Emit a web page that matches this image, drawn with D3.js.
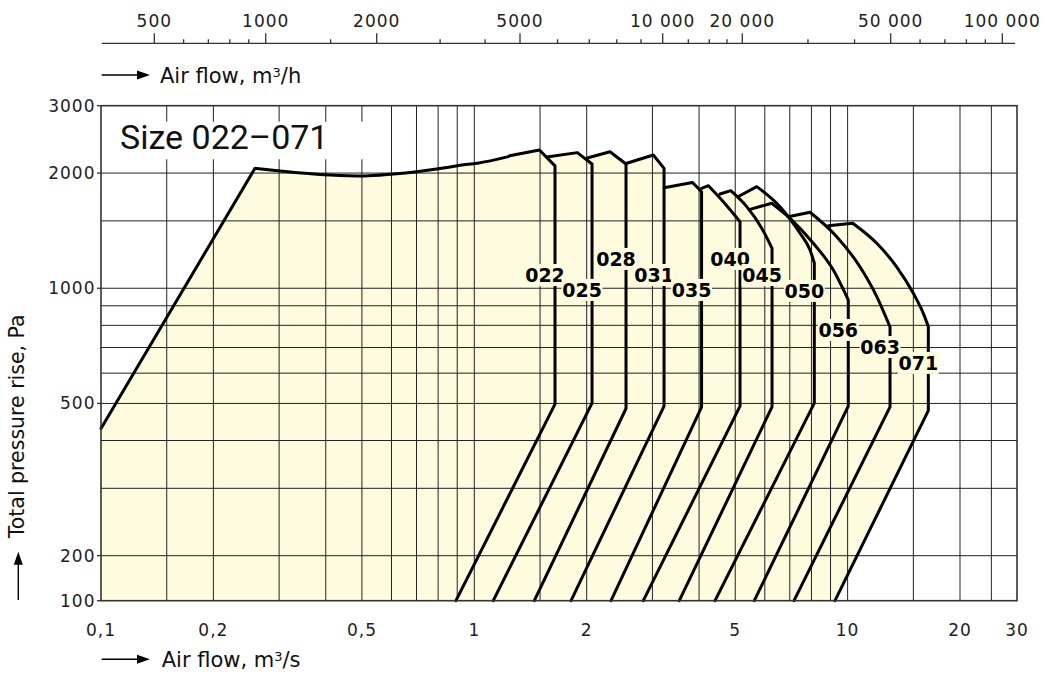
<!DOCTYPE html>
<html><head><meta charset="utf-8">
<script src="https://cdn.jsdelivr.net/npm/d3@7"></script>
<style>html,body{margin:0;padding:0;background:#fff;} svg{display:block;}</style>
</head><body>
<svg id="chart" width="1048" height="675"></svg>
<script>
// ---------------- data ----------------
const sizes = ["022","025","028","031","035","040","045","050","056","063","071"];

// left rising line + common top curve (air flow m3/s, pressure Pa)
const envelopeFlow     = [0.1, 0.2585, 0.302, 0.411, 0.506, 0.607, 0.701, 0.818, 0.916, 1.019, 1.234];
const envelopePressure = [430, 2058,   2025,  1977,  1965,  1989,  2017,  2058,  2096,  2122,  2208];

// top curve of each size: start, peak, ..., shoulder (flow m3/s / pressure Pa)
const topFlow = [
  [1.243, 1.494, 1.645],
  [1.563, 1.888, 2.067],
  [2.008, 2.309, 2.549],
  [2.549, 3.017, 3.223],
  [3.223, 3.842, 4.062],
  [4.062, 4.237, 4.645, 5.15],
  [4.551, 4.863, 5.367, 5.888, 6.274],
  [5.128, 5.708, 6.59, 7.456, 7.93, 8.143],
  [5.476, 6.262, 7.011, 8.093, 9.156, 10.04],
  [6.937, 7.93, 9.35, 10.79, 11.97, 12.99],
  [8.878, 10.32, 11.97, 13.53, 15.0, 15.95, 16.45]
];
const topPressure = [
  [2221, 2298, 2088],
  [2204, 2262, 2113],
  [2190, 2274, 2113],
  [2118, 2230, 2058],
  [1831, 1890, 1788],
  [1825, 1854, 1684, 1493],
  [1764, 1799, 1634, 1435, 1272],
  [1742, 1843, 1634, 1392, 1259, 1164],
  [1608, 1668, 1523, 1311, 1116, 932],
  [1538, 1580, 1364, 1138, 951, 792],
  [1457, 1479, 1311, 1138, 970, 860, 794]
];
// lower end of the vertical part (Pa) and flow at 100 Pa of the sloped part
const cornerPressure = [498, 501, 485, 492, 489, 492, 490, 501, 492, 490, 479];
const bottomFlow     = [0.893, 1.124, 1.448, 1.816, 2.324, 2.836, 3.541, 4.414, 5.624, 7.185, 9.25];
const bottomPressure = 100;
const labelPressure  = [1083, 990, 1193, 1083, 990, 1193, 1083, 984, 778, 702, 638];

// axes
const xTickValues = [0.1, 0.2, 0.5, 1, 2, 5, 10, 20, 30];
const xTickLabels = ["0,1", "0,2", "0,5", "1", "2", "5", "10", "20", "30"];
const xGridValues = [0.15, 0.2, 0.3, 0.4, 0.5, 0.6, 0.7, 0.8, 0.9, 1, 1.5, 2, 3, 4, 5, 6, 7, 8, 9, 10, 15, 20, 25];
const yTickValues = [100, 200, 500, 1000, 2000, 3000];
const yTickLabels = ["100", "200", "500", "1000", "2000", "3000"];
const yGridValues = [200, 300, 400, 500, 600, 700, 800, 900, 1000, 1500, 2000];
const topMajorValues = [500, 1000, 2000, 5000, 10000, 20000, 50000, 100000];
const topMajorLabels = ["500", "1000", "2000", "5000", "10 000", "20 000", "50 000", "100 000"];
const topMinorValues = [600, 700, 800, 900, 1500, 3000, 4000, 6000, 7000, 8000, 9000,
                        12500, 15000, 17500, 30000, 40000, 60000, 70000, 80000, 90000];
const titleText = "Size 022\u2013071";

// ---------------- layout ----------------
const L = 101, R = 1017, T = 105.7, B = 600.7;
const topAxisY = 43.3;
const topMajorPx = [154.3, 265.7, 376.7, 520, 662.7, 742.3, 890.7, 1002.3];
const fillColor = "#FEFBDE";
const ink = "#111";
const tickFont = "'DejaVu Sans', sans-serif";

const x = d3.scaleLog().domain([0.1, 20, 30]).range([L, 960, R]);
const y = d3.scaleLog().domain([100, 200, 3000]).range([B, 555.7, T]);
const xTop = d3.scaleLog().domain(topMajorValues).range(topMajorPx);

const svg = d3.select("#chart");

function seg(points, curve) {
  return d3.line().x(d => x(d[0])).y(d => y(d[1])).curve(curve || d3.curveLinear)(points);
}
function join(parts) {
  return parts.map((p, i) => i === 0 ? p : p.replace(/^M/, "L")).join("");
}

const env = envelopeFlow.map((f, i) => [f, envelopePressure[i]]);
const shapes = sizes.map((s, k) => {
  const tops = topFlow[k].map((f, i) => [f, topPressure[k][i]]);
  const shoulder = tops[tops.length - 1];
  return {
    name: s,
    tops: tops,
    start: tops[0],
    peak: tops[1],
    arc: tops.slice(1),
    shoulder: shoulder,
    corner: [shoulder[0], cornerPressure[k]],
    bottom: [bottomFlow[k], bottomPressure]
  };
});

// ---------- fills ----------
const gFill = svg.append("g");
shapes.forEach((s, k) => {
  let d;
  if (k === 0) {
    d = join([
      seg([[0.1, bottomPressure], env[0], env[1]]),
      seg(env.slice(1), d3.curveMonotoneX),
      seg([env[env.length - 1], s.start, s.peak]),
      seg(s.arc, d3.curveMonotoneX),
      seg([s.shoulder, s.corner, s.bottom, [0.1, bottomPressure]])
    ]) + "Z";
  } else {
    const p = shapes[k - 1];
    d = join([
      seg([s.start, s.peak]),
      seg(s.arc, d3.curveMonotoneX),
      seg([s.shoulder, s.corner, s.bottom, p.bottom, p.corner, p.shoulder, s.start])
    ]) + "Z";
  }
  gFill.append("path").attr("d", d).attr("fill", fillColor)
    .attr("stroke", fillColor).attr("stroke-width", 1.5).attr("stroke-linejoin", "round");
});

// ---------- grid ----------
const gGrid = svg.append("g").attr("stroke", "#222").attr("stroke-width", 1);
xGridValues.forEach(v => {
  gGrid.append("line").attr("x1", x(v)).attr("x2", x(v)).attr("y1", T).attr("y2", B);
});
yGridValues.forEach(v => {
  gGrid.append("line").attr("x1", L).attr("x2", R).attr("y1", y(v)).attr("y2", y(v));
});

// ---------- title box ----------
svg.append("rect").attr("x", L + 0.8).attr("y", 121.7).attr("width", 274).attr("height", 37.6).attr("fill", "#fff");
svg.append("text").attr("x", 120).attr("y", 149.3)
  .attr("font-family", "Roboto, sans-serif").attr("font-size", 34).attr("fill", ink)
  .text(titleText);

// ---------- curves ----------
const gCurve = svg.append("g").attr("fill", "none").attr("stroke", "#000")
  .attr("stroke-width", 3).attr("stroke-linejoin", "round").attr("stroke-linecap", "round");
gCurve.append("path").attr("d", join([seg(env.slice(0, 2)), seg(env.slice(1), d3.curveMonotoneX)]));
shapes.forEach(s => {
  gCurve.append("path").attr("d", join([
    seg([s.start, s.peak]),
    seg(s.arc, d3.curveMonotoneX),
    seg([s.shoulder, s.corner, s.bottom])
  ]));
});

// ---------- size labels ----------
const gLab = svg.append("g");
shapes.forEach((s, k) => {
  const cx = x(s.corner[0]) - 10;
  const cy = y(labelPressure[k]);
  gLab.append("rect").attr("x", cx - 20.5).attr("y", cy - 11).attr("width", 41).attr("height", 22)
    .attr("fill", fillColor);
  gLab.append("text").attr("x", cx).attr("y", cy + 7).attr("text-anchor", "middle")
    .attr("font-family", tickFont).attr("font-weight", "bold").attr("font-size", 19)
    .attr("fill", "#000").text(s.name);
});

// ---------- frame ----------
svg.append("rect").attr("x", L).attr("y", T).attr("width", R - L).attr("height", B - T)
  .attr("fill", "none").attr("stroke", "#333").attr("stroke-width", 1.6);

// ---------- left axis ----------
const gY = svg.append("g");
yTickValues.forEach((v, i) => {
  gY.append("line").attr("x1", L - 4).attr("x2", L).attr("y1", y(v)).attr("y2", y(v))
    .attr("stroke", "#333").attr("stroke-width", 1.3);
  gY.append("text").attr("x", 95.5).attr("y", y(v) + 6).attr("text-anchor", "end")
    .attr("font-family", tickFont).attr("font-size", 17).attr("letter-spacing", 1)
    .attr("fill", "#222").text(yTickLabels[i]);
});

// ---------- bottom axis ----------
const gX = svg.append("g");
xTickValues.forEach((v, i) => {
  gX.append("text").attr("x", x(v)).attr("y", 636).attr("text-anchor", "middle")
    .attr("font-family", tickFont).attr("font-size", 17).attr("letter-spacing", 1)
    .attr("fill", "#222").text(xTickLabels[i]);
});

// ---------- top axis ----------
const gT = svg.append("g").attr("stroke", "#333").attr("stroke-width", 1.3);
gT.append("line").attr("x1", 101.7).attr("x2", 1015).attr("y1", topAxisY).attr("y2", topAxisY);
topMajorValues.forEach((v, i) => {
  gT.append("line").attr("x1", xTop(v)).attr("x2", xTop(v)).attr("y1", topAxisY - 10).attr("y2", topAxisY);
  svg.append("text").attr("x", xTop(v)).attr("y", 27).attr("text-anchor", "middle")
    .attr("font-family", tickFont).attr("font-size", 17).attr("letter-spacing", 1)
    .attr("fill", "#222").text(topMajorLabels[i]);
});
topMinorValues.forEach(v => {
  gT.append("line").attr("x1", xTop(v)).attr("x2", xTop(v)).attr("y1", topAxisY - 4).attr("y2", topAxisY);
});

// ---------- axis titles with arrows ----------
function arrowH(x0, x1, yy) {
  svg.append("line").attr("x1", x0).attr("x2", x1 - 8).attr("y1", yy).attr("y2", yy)
    .attr("stroke", "#000").attr("stroke-width", 1.4);
  svg.append("path").attr("d", `M${x1},${yy}L${x1 - 13},${yy - 4.5}L${x1 - 13},${yy + 4.5}Z`).attr("fill", "#000");
}
function arrowV(xx, y0, y1) {
  svg.append("line").attr("x1", xx).attr("x2", xx).attr("y1", y0).attr("y2", y1 + 8)
    .attr("stroke", "#000").attr("stroke-width", 1.4);
  svg.append("path").attr("d", `M${xx},${y1}L${xx - 4.5},${y1 + 13}L${xx + 4.5},${y1 + 13}Z`).attr("fill", "#000");
}
function flowTitle(x0, yy, unit) {
  const t = svg.append("text").attr("x", x0).attr("y", yy)
    .attr("font-family", tickFont).attr("font-size", 21).attr("fill", "#111");
  t.append("tspan").text("Air flow, m");
  t.append("tspan").attr("font-size", 13).attr("dy", -6).text("3");
  t.append("tspan").attr("dy", 6).text("/" + unit);
}
arrowH(101.7, 150, 75);
flowTitle(160, 83.3, "h");
arrowH(101.7, 150, 659.3);
flowTitle(161.7, 666.7, "s");
arrowV(18.3, 600, 551.7);
svg.append("text").attr("transform", "translate(23.8,538.3) rotate(-90)")
  .attr("font-family", tickFont).attr("font-size", 20.5).attr("fill", "#111")
  .text("Total pressure rise, Pa");
</script>
</body></html>
